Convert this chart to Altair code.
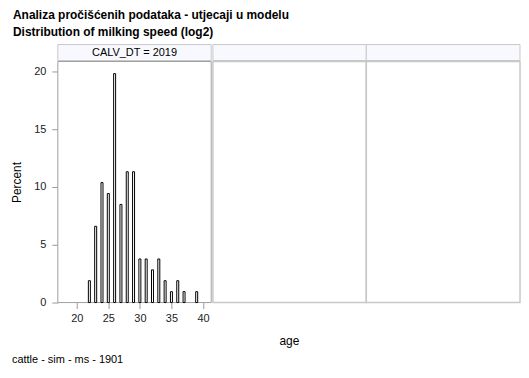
import altair as alt
import pandas as pd

# Histogram data (percent of animals by age), CALV_DT = 2019
ages = [22, 23, 24, 25, 26, 27, 28, 29, 30, 31, 32, 33, 34, 35, 36, 37, 39]
percents = [1.89, 6.60, 10.38, 9.43, 19.81, 8.49, 11.32, 11.32, 3.77, 3.77,
            2.83, 3.77, 1.89, 0.94, 1.89, 0.94, 0.94]

panel_labels = ["CALV_DT = 2019", "", ""]
x_ticks = [20, 25, 30, 35, 40]
y_ticks = [0, 5, 10, 15, 20]
title_lines = ["Analiza pročišćenih podataka - utjecaji u modelu",
               "Distribution of milking speed (log2)"]
footnote = "cattle - sim - ms - 1901"

FONT = "Liberation Sans"
PW = 154            # width of one panel (px)
W, H = 464, 242     # whole plotting area (three panels)
X_MIN, X_SPAN = 17.0, 24.3   # data range shown by one panel
panel_x0 = [0, 155.7, 309.7]
panel_x1 = [154, 309.7, 464]

df = pd.DataFrame({"age": ages, "percent": percents})

xscale = alt.Scale(domain=[X_MIN, X_MIN + X_SPAN * W / PW], nice=False, zero=False, padding=0)
yscale = alt.Scale(domain=[0, 20.86], nice=False, zero=True, padding=0)

layers = []

# panel frames and header strips
for i, lab in enumerate(panel_labels):
    d = pd.DataFrame({"label": [lab]})
    stroke = "#a0a0a0" if i == 0 else "#c8c8c8"
    sw = 1 if i == 0 else 1.5
    layers.append(alt.Chart(d).mark_rect(fill="white", stroke=stroke, strokeWidth=sw).encode(
        x=alt.value(panel_x0[i]), x2=alt.value(panel_x1[i]), y=alt.value(0), y2=alt.value(H)))
    layers.append(alt.Chart(d).mark_rect(fill="#f8f9ff", stroke="#c8c8c8", strokeWidth=1).encode(
        x=alt.value(panel_x0[i]), x2=alt.value(panel_x1[i]), y=alt.value(-17), y2=alt.value(-1)))
    if lab:
        layers.append(alt.Chart(d).mark_text(font=FONT, fontSize=11, color="#000000",
                                             baseline="middle", align="center").encode(
            x=alt.value((panel_x0[i] + panel_x1[i]) / 2), y=alt.value(-9), text="label:N"))

bars = alt.Chart(df).mark_bar(size=2, fill="white", stroke="black", strokeWidth=1).encode(
    x=alt.X("age:Q", scale=xscale,
            axis=alt.Axis(values=x_ticks, title="age", grid=False, domain=False,
                          tickSize=6, tickColor="#9a9a9a", labelPadding=4,
                          labelFont=FONT, labelFontSize=11, labelColor="#222222",
                          titleFont=FONT, titleFontSize=12, titleFontWeight="normal",
                          titleColor="#000000", titlePadding=12)),
    y=alt.Y("percent:Q", scale=yscale,
            axis=alt.Axis(values=y_ticks, title="Percent", grid=False, domain=False,
                          tickSize=6, tickColor="#9a9a9a", labelPadding=6,
                          labelFont=FONT, labelFontSize=11, labelColor="#222222",
                          titleFont=FONT, titleFontSize=12, titleFontWeight="normal",
                          titleColor="#000000", titlePadding=10)),
)
layers.append(bars)

for line, yy in zip(title_lines, [-43, -26]):
    layers.append(alt.Chart(pd.DataFrame({"t": [line]})).mark_text(
        font=FONT, fontSize=12, fontWeight="bold", color="#000000",
        align="left", baseline="alphabetic"
    ).encode(x=alt.value(-45), y=alt.value(yy), text="t:N"))

layers.append(alt.Chart(pd.DataFrame({"t": [footnote]})).mark_text(
    font=FONT, fontSize=11, color="#000000", align="left", baseline="middle"
).encode(x=alt.value(-46), y=alt.value(300), text="t:N"))

chart = alt.layer(*layers).properties(
    width=W, height=H,
    padding={"left": 2, "top": 0, "right": 0, "bottom": 0},
    background="white",
).configure_view(stroke=None)

chart.save("out.html", embed_options={"renderer": "svg", "actions": False})
